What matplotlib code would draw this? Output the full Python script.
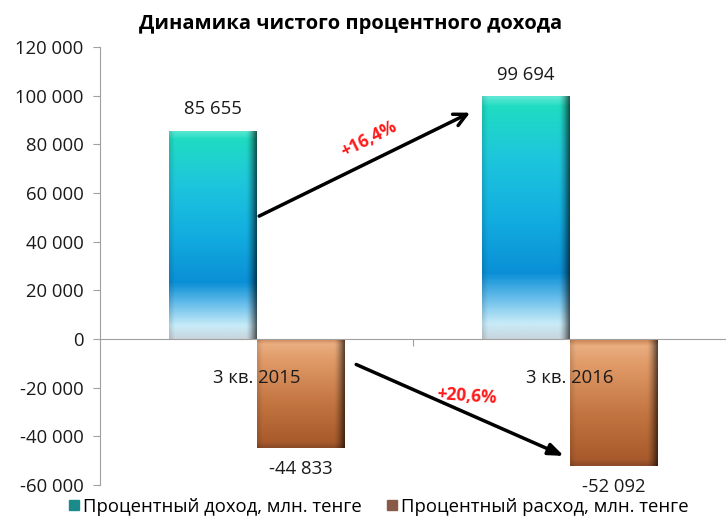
import numpy as np
import matplotlib
matplotlib.use("Agg")
import matplotlib.pyplot as plt
from matplotlib.colors import LinearSegmentedColormap

categories = ["3 кв. 2015", "3 кв. 2016"]
income = [85655, 99694]
expense = [-44833, -52092]
income_labels = ["85 655", "99 694"]
expense_labels = ["-44 833", "-52 092"]
growth_labels = ["+16,4%", "+20,6%"]
yticks = [-60000, -40000, -20000, 0, 20000, 40000, 60000, 80000, 100000, 120000]
ytick_labels = ["-60 000", "-40 000", "-20 000", "0", "20 000", "40 000",
                "60 000", "80 000", "100 000", "120 000"]
series_names = ["Процентный доход, млн. тенге", "Процентный расход, млн. тенге"]

plt.rcParams['font.family'] = ['Open Sans', 'DejaVu Sans']

fig = plt.figure(figsize=(7.26, 5.16), dpi=100)
ax = fig.add_axes([0.138, 0.060, 0.862, 0.849])
ax.set_xlim(-0.5, 1.5)
ax.set_ylim(-60000, 120000)

x = np.arange(len(categories))
w = 0.28

inc_stops = [(0.0, "#c8d6de"), (0.06, "#c8ecf8"), (0.16, "#6cc0ec"), (0.27, "#0a8fd6"),
             (0.5, "#12aee0"), (0.75, "#1ec6dc"), (0.96, "#1fdcc2"), (1.0, "#5ee8d4")]
exp_stops = [(0.0, "#8a4a28"), (0.05, "#a85a2c"), (0.4, "#c27440"), (0.8, "#e09a68"),
             (0.95, "#eaae80"), (1.0, "#c88050")]


def grad_img(stops, n=300, m=60):
    cmap = LinearSegmentedColormap.from_list("g", stops)
    v = np.linspace(0, 1, n)[::-1]
    col = cmap(v)[:, :3]
    h = np.linspace(0, 1, m)
    shade = np.ones(m)
    shade = shade - 0.6 * np.clip((h - 0.88) / 0.12, 0, 1) ** 1.5
    shade = shade - 0.12 * np.clip((0.06 - h) / 0.06, 0, 1)
    img = col[:, None, :] * shade[None, :, None]
    return np.clip(img, 0, 1)


bars_inc = ax.bar(x - w / 2, income, width=w, color="none", edgecolor="none", zorder=2)
bars_exp = ax.bar(x + w / 2, expense, width=w, color="none", edgecolor="none", zorder=2)

img_inc = grad_img(inc_stops)
img_exp = grad_img(exp_stops)
for b in bars_inc:
    x0, y0 = b.get_x(), b.get_y()
    im = ax.imshow(img_inc, extent=[x0, x0 + b.get_width(), y0, y0 + b.get_height()],
                   aspect="auto", zorder=2, interpolation="bilinear")
    im.set_clip_path(b)
for b in bars_exp:
    x0, y0 = b.get_x(), b.get_y()
    h = b.get_height()
    im = ax.imshow(img_exp, extent=[x0, x0 + b.get_width(), y0 + h, y0],
                   aspect="auto", zorder=2, interpolation="bilinear")
    im.set_clip_path(b)

ax.set_xlim(-0.5, 1.5)
ax.set_ylim(-60000, 120000)

fs = 13.3
# value labels
for i in range(len(categories)):
    ax.text(x[i] - w / 2, income[i] + 5000, income_labels[i], ha="center", va="bottom",
            fontsize=fs, color="#1a1a1a")
    ax.text(x[i] + w / 2, expense[i] - 5000, expense_labels[i], ha="center", va="top",
            fontsize=fs, color="#1a1a1a")
    ax.text(x[i], -16000, categories[i], ha="center", va="center",
            fontsize=fs, color="#1a1a1a", zorder=3)

# arrows
ax.annotate("", xy=(0.69, 93500), xytext=(0.0, 50000),
            arrowprops=dict(arrowstyle="->,head_length=0.9,head_width=0.45", lw=2.5, color="black"),
            zorder=4)
ax.annotate("", xy=(0.99, -48500), xytext=(0.31, -10000),
            arrowprops=dict(arrowstyle="-|>,head_length=0.9,head_width=0.35", lw=2.5, color="black"),
            zorder=4)
ax.text(0.36, 82000, growth_labels[0], color="#ff1a1a", fontsize=12.5, fontweight="bold",
        rotation=27, ha="center", va="center", zorder=5)
ax.text(0.67, -23500, growth_labels[1], color="#ff1a1a", fontsize=12.5, fontweight="bold",
        rotation=-4, ha="center", va="center", zorder=5)

# axes styling
for s in ["top", "right"]:
    ax.spines[s].set_visible(False)
ax.spines["left"].set_color("#a0a0a0")
ax.spines["bottom"].set_position(("data", 0))
ax.spines["bottom"].set_color("#a0a0a0")
ax.set_yticks(yticks)
ax.set_yticklabels(ytick_labels, fontsize=fs, color="#1a1a1a")
ax.tick_params(axis="y", length=5, color="#a0a0a0", pad=7)
ax.set_xticks([0.5])
ax.set_xticklabels([""])
ax.tick_params(axis="x", length=5, color="#a0a0a0", direction="out")

fig.text(0.483, 0.953, "Динамика чистого процентного дохода", ha="center", va="center",
         fontsize=14.5, fontweight="bold", color="black")

# legend
from matplotlib.lines import Line2D
handles = [Line2D([], [], marker="s", linestyle="none", markersize=7,
                  markerfacecolor="#1a8a8a", markeredgecolor="#1a8a8a"),
           Line2D([], [], marker="s", linestyle="none", markersize=7,
                  markerfacecolor="#8a5a48", markeredgecolor="#8a5a48")]
fig.legend(handles, series_names, loc="center", bbox_to_anchor=(0.52, 0.018), ncol=2,
           frameon=False, fontsize=fs, handletextpad=0.1, columnspacing=1.2,
           handlelength=0.8, borderpad=0)

fig.savefig("out.png", dpi=100)
